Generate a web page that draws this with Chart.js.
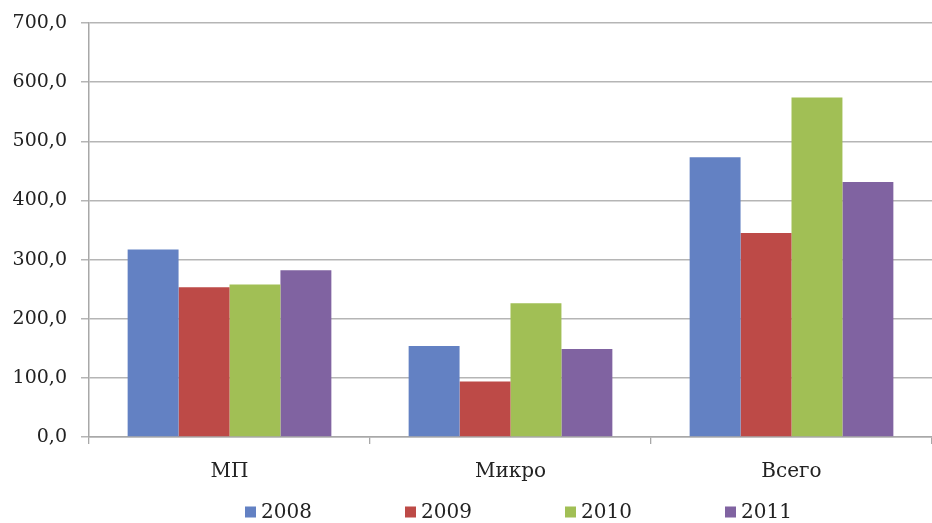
<!DOCTYPE html>
<html>
<head>
<meta charset="utf-8">
<script src="https://cdn.jsdelivr.net/npm/chart.js@4/dist/chart.umd.min.js"></script>
<style>
  html, body { margin: 0; padding: 0; background: #ffffff; }
  #wrap { width: 932px; height: 523px; position: relative; }
</style>
</head>
<body>
<div id="wrap"><canvas id="c"></canvas></div>
<script>
// Categories and yearly series
const categories = ['МП', 'Микро', 'Всего'];
const years = ['2008', '2009', '2010', '2011'];
const values2008 = [317, 154, 473];
const values2009 = [253, 94, 345];
const values2010 = [258, 226, 574];
const values2011 = [282, 149, 431];
const yTicks = [0, 100, 200, 300, 400, 500, 600, 700];

const colors = ['#6381c3', '#bd4a47', '#a1bf55', '#8063a1'];
const seriesValues = [values2008, values2009, values2010, values2011];
const FAMILY = 'DejaVu Serif';
const TEXT = '#222222';

// Legend row drawn under the x axis labels
const bottomLegend = {
  id: 'bottomLegend',
  afterDraw(chart) {
    const ctx = chart.ctx;
    const area = chart.chartArea;
    const pitch = 160;
    const box = 11;
    const y = 512;
    ctx.save();
    ctx.font = '20px "DejaVu Serif", serif';
    ctx.textBaseline = 'middle';
    ctx.textAlign = 'left';
    chart.data.datasets.forEach((ds, i) => {
      const x = area.left + 156 + i * pitch;
      ctx.fillStyle = ds.backgroundColor;
      ctx.fillRect(x, y - box / 2, box, box);
      ctx.fillStyle = TEXT;
      ctx.fillText(ds.label, x + box + 5, y + 1);
    });
    ctx.restore();
  }
};

new Chart(document.getElementById('c'), {
  type: 'bar',
  data: {
    labels: categories,
    datasets: years.map((yr, i) => ({
      label: yr,
      data: seriesValues[i],
      backgroundColor: colors[i],
      borderWidth: 0,
      categoryPercentage: 0.725,
      barPercentage: 1.0
    }))
  },
  options: {
    responsive: true,
    maintainAspectRatio: false,
    animation: false,
    layout: { padding: { top: 23, right: 0, bottom: 34, left: 0 } },
    plugins: {
      legend: { display: false },
      tooltip: { enabled: false },
      title: { display: false }
    },
    scales: {
      x: {
        offset: true,
        grid: {
          display: true,
          offset: true,
          drawOnChartArea: false,
          drawTicks: true,
          tickLength: 7,
          color: '#a8a8a8',
          lineWidth: 1.3
        },
        border: { display: true, color: '#a8a8a8', width: 1.5 },
        ticks: {
          font: { family: FAMILY, size: 20 },
          color: TEXT,
          padding: 16
        },
        afterFit(scale) { scale.height = 52; }
      },
      y: {
        min: 0,
        max: 700,
        afterBuildTicks(scale) { scale.ticks = yTicks.map(v => ({ value: v })); },
        grid: {
          color: '#b5b5b5',
          lineWidth: 1.5,
          drawTicks: true,
          tickLength: 8
        },
        border: { display: true, color: '#a8a8a8', width: 1.5 },
        ticks: {
          font: { family: FAMILY, size: 19 },
          color: TEXT,
          padding: 14,
          callback: (v) => Number(v).toFixed(1).replace('.', ',')
        },
        afterFit(scale) {
          scale.width = 89;
          scale.paddingTop = 0;
          scale.paddingBottom = 0;
        }
      }
    }
  },
  plugins: [bottomLegend]
});
</script>
</body>
</html>
